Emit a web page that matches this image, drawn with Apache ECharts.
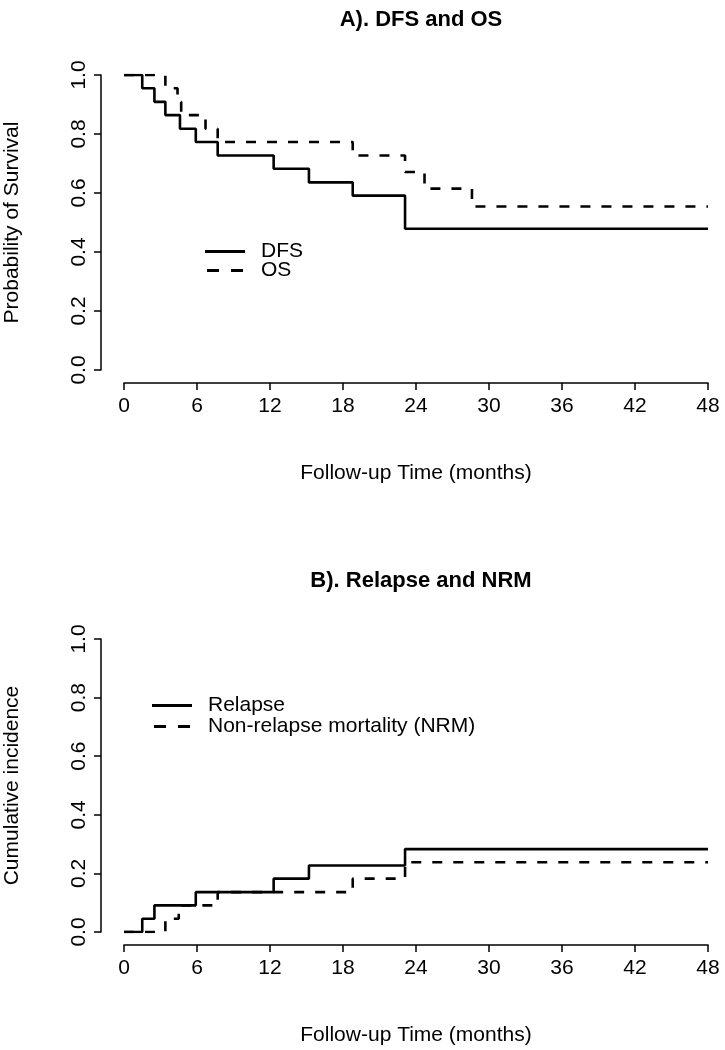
<!DOCTYPE html>
<html>
<head>
<meta charset="utf-8">
<script src="https://cdn.jsdelivr.net/npm/echarts@6/dist/echarts.min.js"></script>
<style>
html,body{margin:0;padding:0;background:#fff;}
#c{width:725px;height:1050px;}
</style>
</head>
<body>
<div id="c"></div>
<script>
// ---- data (months, probability) ----
var dfsTime  = [0, 1.5, 2.5, 3.4, 4.6, 5.9, 7.7, 12.3, 15.2, 18.8, 23.1, 48];
var dfsProb  = [1, 0.955, 0.909, 0.864, 0.818, 0.773, 0.727, 0.682, 0.636, 0.591, 0.479, 0.479];
var osTime   = [0, 3.4, 4.4, 4.7, 6.7, 7.7, 18.8, 23.1, 24.7, 28.6, 48];
var osProb   = [1, 0.955, 0.909, 0.864, 0.818, 0.773, 0.727, 0.671, 0.615, 0.554, 0.554];
var relTime  = [0, 1.5, 2.5, 5.9, 12.3, 15.2, 23.1, 48];
var relInc   = [0, 0.045, 0.091, 0.136, 0.182, 0.227, 0.283, 0.283];
var nrmTime  = [0, 3.4, 4.5, 7.7, 18.8, 23.1, 48];
var nrmInc   = [0, 0.045, 0.091, 0.136, 0.182, 0.238, 0.238];
var xTicks   = [0, 6, 12, 18, 24, 30, 36, 42, 48];
var yTicks   = [0, 0.2, 0.4, 0.6, 0.8, 1.0];

function pairs(t, v){ return t.map(function(x,i){ return [x, v[i]]; }); }

var FONT = 'Liberation Sans, Arial, sans-serif';
var FS = 21;
var DASH = [10, 11];
var SOLID_ICON  = 'path://M0,0h40v3h-40z';
var DASHED_ICON = 'path://M0,0h12v3h-12zM24,0h12v3h-12z';

function xAxisDef(gi){
  return {
    type:'value', gridIndex:gi, min:0, max:48, interval:6, offset:13,
    name:'Follow-up Time (months)', nameLocation:'middle', nameGap:80,
    nameTextStyle:{color:'#000', fontSize:FS, fontFamily:FONT},
    axisLine:{show:true, onZero:false, lineStyle:{color:'#000', width:1.5}},
    axisTick:{show:true, length:7, lineStyle:{color:'#000', width:1.5}},
    axisLabel:{color:'#000', fontSize:FS, fontFamily:FONT, margin:13,
      formatter:function(v){ return xTicks.indexOf(v) >= 0 ? String(v) : ''; }},
    splitLine:{show:false}
  };
}
function yAxisDef(gi, name){
  return {
    type:'value', gridIndex:gi, min:0, max:1, interval:0.2, offset:23,
    name:name, nameLocation:'middle', nameGap:78,
    nameTextStyle:{color:'#000', fontSize:FS, fontFamily:FONT},
    axisLine:{show:true, onZero:false, lineStyle:{color:'#000', width:1.5}},
    axisTick:{show:true, length:7, lineStyle:{color:'#000', width:1.5}},
    axisLabel:{color:'#000', fontSize:FS, fontFamily:FONT, rotate:90, margin:11,
      formatter:function(v){ return yTicks.indexOf(Math.round(v*10)/10) >= 0 ? v.toFixed(1) : ''; }},
    splitLine:{show:false}
  };
}
function stepSeries(name, data, xi, yi, dashed){
  return {
    name:name, type:'line', step:'end', xAxisIndex:xi, yAxisIndex:yi,
    data:data, symbol:'none', animation:false, silent:true,
    lineStyle:{color:'#000', width:2.6, type: dashed ? DASH : 'solid'},
    itemStyle:{color:'#000'}
  };
}
function legendDef(left, top, names, gap){
  return {
    orient:'vertical', left:left, top:top, itemWidth:40, itemHeight:3, itemGap:gap,
    data:[{name:names[0], icon:SOLID_ICON}, {name:names[1], icon:DASHED_ICON}],
    textStyle:{color:'#000', fontSize:FS, fontFamily:FONT, padding:[0,0,0,11]}
  };
}

var chart = echarts.init(document.getElementById('c'), null, {renderer:'canvas'});
chart.setOption({
  backgroundColor:'#fff',
  animation:false,
  title:[
    {text:'A). DFS and OS', left:416, top:4, textAlign:'center',
     textStyle:{color:'#000', fontSize:22, fontWeight:'bold', fontFamily:FONT}},
    {text:'B). Relapse and NRM', left:416, top:565, textAlign:'center',
     textStyle:{color:'#000', fontSize:22, fontWeight:'bold', fontFamily:FONT}}
  ],
  legend:[
    legendDef(200, 236, ['DFS','OS'], -2),
    legendDef(147, 690, ['Relapse','Non-relapse mortality (NRM)'], 0)
  ],
  grid:[
    {left:124, right:17, top:75, height:295, containLabel:false, outerBoundsMode:'none'},
    {left:124, right:17, top:639, height:293, containLabel:false, outerBoundsMode:'none'}
  ],
  xAxis:[xAxisDef(0), xAxisDef(1)],
  yAxis:[yAxisDef(0,'Probability of Survival'), yAxisDef(1,'Cumulative incidence')],
  series:[
    stepSeries('DFS', pairs(dfsTime, dfsProb), 0, 0, false),
    stepSeries('OS', pairs(osTime, osProb), 0, 0, true),
    stepSeries('Relapse', pairs(relTime, relInc), 1, 1, false),
    stepSeries('Non-relapse mortality (NRM)', pairs(nrmTime, nrmInc), 1, 1, true)
  ]
});
</script>
</body>
</html>
